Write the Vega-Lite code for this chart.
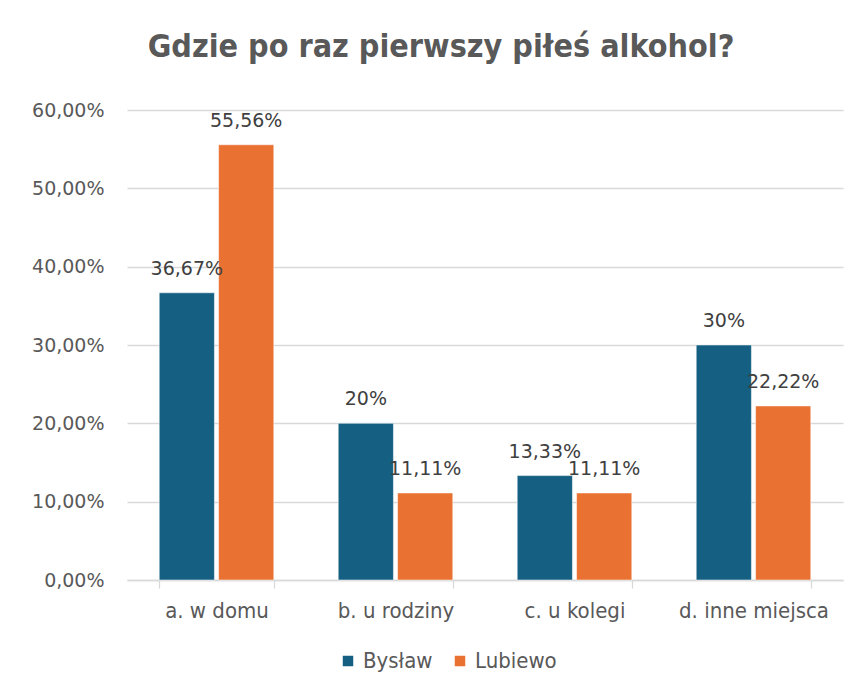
{
  "$schema": "https://vega.github.io/schema/vega-lite/v6.json",
  "width": 716,
  "height": 470,
  "autosize": {"type": "none"},
  "padding": {"left": 127, "top": 110, "right": 16, "bottom": 117},
  "background": "white",
  "view": {"stroke": null},
  "title": {
    "text": "Gdzie po raz pierwszy piłeś alkohol?",
    "font": "DejaVu Sans Condensed, Roboto, sans-serif",
    "fontSize": 32,
    "fontWeight": "bold",
    "color": "#595959",
    "anchor": "middle",
    "frame": "group",
    "dx": -44,
    "offset": 37
  },
  "data": {
    "values": [
      {"miejsce": "a. w domu", "seria": "Bysław", "wartosc": 0.3667, "etykieta": "36,67%"},
      {"miejsce": "a. w domu", "seria": "Lubiewo", "wartosc": 0.5556, "etykieta": "55,56%"},
      {"miejsce": "b. u rodziny", "seria": "Bysław", "wartosc": 0.20, "etykieta": "20%"},
      {"miejsce": "b. u rodziny", "seria": "Lubiewo", "wartosc": 0.1111, "etykieta": "11,11%"},
      {"miejsce": "c. u kolegi", "seria": "Bysław", "wartosc": 0.1333, "etykieta": "13,33%"},
      {"miejsce": "c. u kolegi", "seria": "Lubiewo", "wartosc": 0.1111, "etykieta": "11,11%"},
      {"miejsce": "d. inne miejsca", "seria": "Bysław", "wartosc": 0.30, "etykieta": "30%"},
      {"miejsce": "d. inne miejsca", "seria": "Lubiewo", "wartosc": 0.2222, "etykieta": "22,22%"}
    ]
  },
  "encoding": {
    "x": {
      "field": "miejsce",
      "type": "nominal",
      "scale": {"paddingInner": 0.36, "paddingOuter": 0.18},
      "axis": {
        "title": null,
        "labelAngle": 0,
        "labelFont": "DejaVu Sans Condensed, Roboto, sans-serif",
        "labelFontSize": 22,
        "labelColor": "#595959",
        "labelPadding": 12,
        "domainColor": "#D9D9D9",
        "domainWidth": 1.3,
        "ticks": true,
        "tickBand": "extent",
        "tickColor": "#D9D9D9",
        "tickWidth": 1.3,
        "tickSize": 8,
        "grid": false
      }
    },
    "xOffset": {"field": "seria", "type": "nominal", "scale": {"paddingInner": 0.07}},
    "y": {
      "field": "wartosc",
      "type": "quantitative",
      "scale": {"domain": [0, 0.6]},
      "axis": {
        "title": null,
        "values": [0, 0.1, 0.2, 0.3, 0.4, 0.5, 0.6],
        "labelExpr": "replace(format(datum.value, '.2%'), '.', ',')",
        "labelFont": "DejaVu Sans",
        "labelFontSize": 19,
        "labelColor": "#595959",
        "labelPadding": 23,
        "domain": false,
        "ticks": false,
        "gridColor": "#D9D9D9",
        "gridWidth": 1.3
      }
    }
  },
  "layer": [
    {
      "mark": {"type": "bar", "stroke": "white", "strokeWidth": 0.5},
      "encoding": {
        "color": {
          "field": "seria",
          "type": "nominal",
          "scale": {"domain": ["Bysław", "Lubiewo"], "range": ["#156082", "#E97132"]},
          "legend": {
            "title": null,
            "orient": "none",
            "direction": "horizontal",
            "legendX": 210,
            "legendY": 540,
            "symbolType": "square",
            "symbolSize": 110,
            "symbolStrokeWidth": 0,
            "labelFont": "DejaVu Sans Condensed, Roboto, sans-serif",
            "labelFontSize": 22,
            "labelColor": "#595959",
            "columnPadding": 16
          }
        }
      }
    },
    {
      "mark": {
        "type": "text",
        "baseline": "bottom",
        "dy": -14,
        "font": "DejaVu Sans",
        "fontSize": 19,
        "color": "#404040"
      },
      "encoding": {"text": {"field": "etykieta"}}
    }
  ]
}
